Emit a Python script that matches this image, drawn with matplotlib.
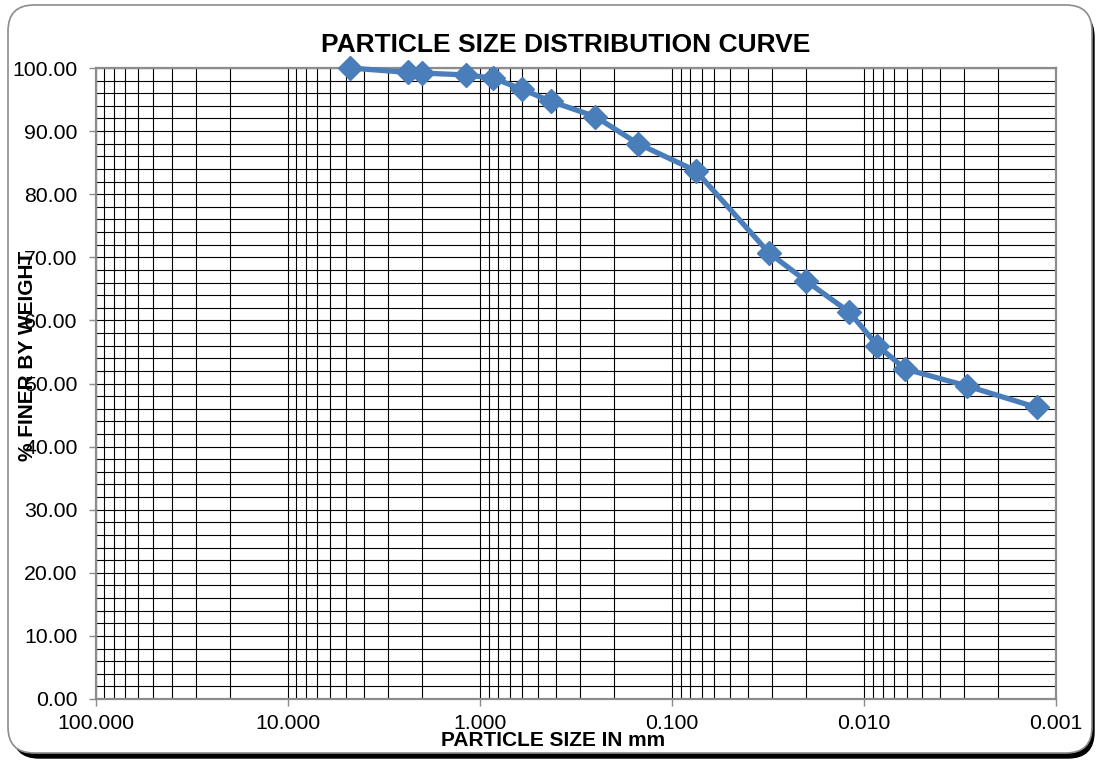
import numpy as np
import matplotlib
matplotlib.use('Agg')
import matplotlib.pyplot as plt
from matplotlib.patches import FancyBboxPatch
from matplotlib.ticker import FixedLocator, MultipleLocator, FormatStrFormatter, LogLocator, NullFormatter

# sieve + hydrometer results
particle_size_mm = [4.75, 2.36, 2.0, 1.18, 0.85, 0.6, 0.425, 0.25, 0.15, 0.075,
                    0.0312, 0.0201, 0.0119, 0.0085, 0.0061, 0.0029, 0.00126]
percent_finer = [100.0, 99.3, 99.2, 98.9, 98.4, 96.6, 94.7, 92.3, 88.0, 83.7,
                 70.7, 66.3, 61.3, 56.0, 52.3, 49.6, 46.2]

x_ticks = [100, 10, 1, 0.1, 0.01, 0.001]
y_ticks = [0, 10, 20, 30, 40, 50, 60, 70, 80, 90, 100]

plt.rcParams['font.family'] = ['Liberation Sans', 'DejaVu Sans']

W, H = 1099, 761
fig = plt.figure(figsize=(W / 100, H / 100), dpi=100)

# rounded chart frame with shadow (pixel coords)
shadow = FancyBboxPatch((13, 3), 1081, 747, boxstyle='round,pad=0,rounding_size=26',
                        transform=None, facecolor='black', edgecolor='black', zorder=0)
frame = FancyBboxPatch((8, 8), 1084, 748, boxstyle='round,pad=0,rounding_size=26',
                       transform=None, facecolor='white', edgecolor='#8c8c8c', lw=1.2, zorder=1)
fig.patches.extend([shadow, frame])

ax = fig.add_axes([95.6 / W, 1 - 699 / H, (1056 - 95.6) / W, (699 - 68) / H])
ax.set_facecolor('none')
ax.set_zorder(2)

ax.plot(particle_size_mm, percent_finer, color='#4A7EBB', lw=3.8, marker='D',
        markersize=12, markerfacecolor='#4A7EBB', markeredgecolor='#4A7EBB',
        solid_joinstyle='round', zorder=5, clip_on=False)

ax.set_xscale('log')
ax.set_xlim(100, 0.001)
ax.set_ylim(0, 100)

ax.xaxis.set_major_locator(FixedLocator(x_ticks))
ax.xaxis.set_major_formatter(FormatStrFormatter('%.3f'))
ax.xaxis.set_minor_locator(LogLocator(base=10, subs=np.arange(2, 10), numticks=20))
ax.xaxis.set_minor_formatter(NullFormatter())
ax.yaxis.set_major_locator(FixedLocator(y_ticks))
ax.yaxis.set_major_formatter(FormatStrFormatter('%.2f'))
ax.yaxis.set_minor_locator(MultipleLocator(2))

ax.grid(True, which='both', color='black', lw=0.8)
ax.set_axisbelow(True)

for s in ax.spines.values():
    s.set_color('#8c8c8c')
    s.set_linewidth(1.6)

ax.tick_params(which='major', direction='out', length=5, width=1, color='#8c8c8c',
               labelsize=15.3, labelcolor='black')
ax.tick_params(axis='y', which='major', pad=8)
ax.tick_params(axis='x', which='major', pad=6)
ax.tick_params(which='minor', length=0)

fig.text(566 / W, 1 - 45 / H, 'PARTICLE SIZE DISTRIBUTION CURVE', ha='center', va='center',
         fontsize=19, fontweight='bold')
fig.text(553 / W, 1 - 741 / H, 'PARTICLE SIZE IN mm', ha='center', va='center',
         fontsize=15, fontweight='bold')
fig.text(28 / W, 1 - 356 / H, '% FINER BY WEIGHT', ha='center', va='center', rotation=90,
         fontsize=15, fontweight='bold')

fig.savefig('out.png', dpi=100)
